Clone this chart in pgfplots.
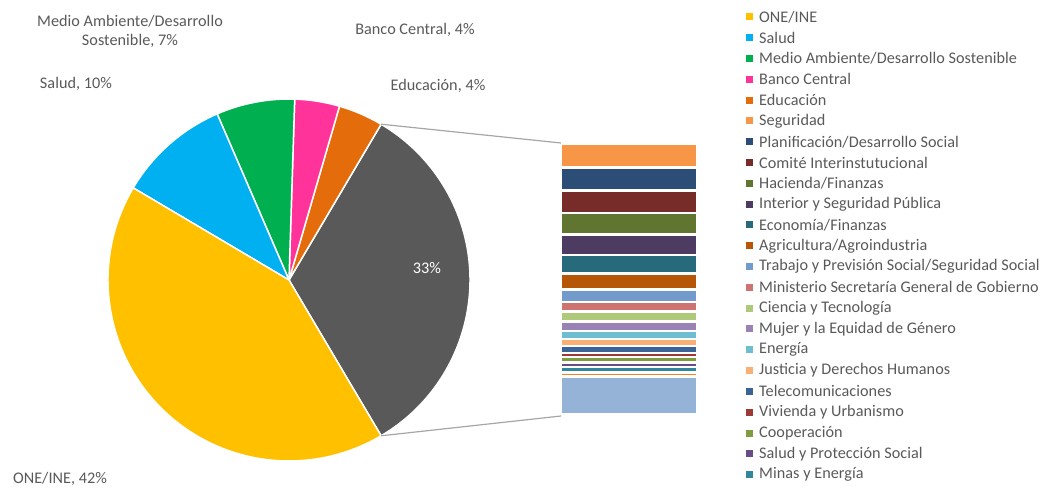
\documentclass[border=0pt]{standalone}
\usepackage{fontspec}
\setmainfont[LetterSpace=0.3]{Carlito}
\usepackage{pgfplots}
\pgfplotsset{compat=1.18}

\definecolor{cONE}{HTML}{FFC000}
\definecolor{cSalud}{HTML}{00B0F0}
\definecolor{cMedio}{HTML}{00B050}
\definecolor{cBanco}{HTML}{FF3399}
\definecolor{cEdu}{HTML}{E46C0A}
\definecolor{cOther}{HTML}{595959}
\definecolor{cSeg}{HTML}{F79646}
\definecolor{cPlan}{HTML}{2C4D75}
\definecolor{cComite}{HTML}{772C2A}
\definecolor{cHac}{HTML}{5F7530}
\definecolor{cInt}{HTML}{4D3B62}
\definecolor{cEco}{HTML}{276A7C}
\definecolor{cAgr}{HTML}{B65708}
\definecolor{cTrab}{HTML}{729ACA}
\definecolor{cMin}{HTML}{CD7371}
\definecolor{cCien}{HTML}{AFC97A}
\definecolor{cMuj}{HTML}{9983B5}
\definecolor{cEne}{HTML}{6FBDD1}
\definecolor{cJus}{HTML}{F9B074}
\definecolor{cTel}{HTML}{3A6398}
\definecolor{cViv}{HTML}{9C3A37}
\definecolor{cCoop}{HTML}{7E9D3E}
\definecolor{cSPS}{HTML}{664E84}
\definecolor{cMinas}{HTML}{31869B}
\definecolor{cExtraA}{HTML}{F48024}
\definecolor{cExtraB}{HTML}{95B3D7}
\definecolor{txt}{HTML}{595959}

\begin{document}
\begin{tikzpicture}[x=1pt,y=1pt,
  lbl/.style={font=\fontsize{16.2}{19}\selectfont, text=txt, inner sep=0pt}]
\path[use as bounding box] (0,0) rectangle (1045,488);

% pie: share of each slice, in %, counterclockwise starting with the "other" slice
\begin{axis}[at={(289pt,208pt)}, anchor=center, scale only axis,
  width=362pt, height=362pt, xmin=-1, xmax=1, ymin=-1, ymax=1,
  hide axis, clip=false]
\addplot[draw=none] coordinates {(0,0)};
\pgfplotsextra{
  \pgfmathsetmacro\start{-33*1.8}
  \foreach \v/\c in {33/cOther,4/cEdu,4/cBanco,7/cMedio,10/cSalud,42/cONE} {
    \pgfmathsetmacro\en{\start+3.6*\v}
    \fill[\c, draw=white, line width=1.5pt] (axis cs:0,0) -- ++(\start:181pt)
      arc[start angle=\start, end angle=\en, radius=181pt] -- cycle;
    \global\let\start\en
  }
}
\coordinate (pu) at (axis cs:{cos(59.4)},{sin(59.4)});
\coordinate (pd) at (axis cs:{cos(59.4)},{-sin(59.4)});
\end{axis}

% bar of the "other" slice, bottom to top
\begin{axis}[name=bar, at={(560.7pt,73.4pt)}, anchor=south west, scale only axis,
  width=136.6pt, height=270.9pt, hide axis, clip=false,
  xmin=-0.5, xmax=0.5, ymin=0, ymax=32.99,
  ybar stacked, bar width=136.6pt,
  every axis plot/.append style={draw=white, line width=2.6pt}]
\addplot[fill=cExtraB] coordinates {(0,4.67)};
\addplot[fill=cExtraA] coordinates {(0,0.49)};
\addplot[fill=cMinas] coordinates {(0,0.63)};
\addplot[fill=cSPS] coordinates {(0,0.55)};
\addplot[fill=cCoop] coordinates {(0,0.66)};
\addplot[fill=cViv] coordinates {(0,0.50)};
\addplot[fill=cTel] coordinates {(0,0.85)};
\addplot[fill=cJus] coordinates {(0,0.86)};
\addplot[fill=cEne] coordinates {(0,0.98)};
\addplot[fill=cMuj] coordinates {(0,1.18)};
\addplot[fill=cCien] coordinates {(0,1.16)};
\addplot[fill=cMin] coordinates {(0,1.18)};
\addplot[fill=cTrab] coordinates {(0,1.53)};
\addplot[fill=cAgr] coordinates {(0,1.97)};
\addplot[fill=cEco] coordinates {(0,2.21)};
\addplot[fill=cInt] coordinates {(0,2.50)};
\addplot[fill=cHac] coordinates {(0,2.64)};
\addplot[fill=cComite] coordinates {(0,2.73)};
\addplot[fill=cPlan] coordinates {(0,2.83)};
\addplot[fill=cSeg] coordinates {(0,2.87)};
\end{axis}

% connector lines
\draw[black!35, line width=1.2pt] (pu) -- (561,345);
\draw[black!35, line width=1.2pt] (pd) -- (561,72);

% data labels
\node[lbl, align=center] at (130,457) {Medio Ambiente/Desarrollo\\Sostenible, 7\%};
\node[lbl] at (415,458) {Banco Central, 4\%};
\node[lbl] at (76,404) {Salud, 10\%};
\node[lbl] at (438,402) {Educación, 4\%};
\node[lbl] at (60,9) {ONE/INE, 42\%};
\node[lbl, text=white] at (427,220) {33\%};

% legend
\foreach \c/\t [count=\i from 0] in {
  cONE/{ONE/INE}, cSalud/{Salud}, cMedio/{Medio Ambiente/Desarrollo Sostenible},
  cBanco/{Banco Central}, cEdu/{Educación}, cSeg/{Seguridad},
  cPlan/{Planificación/Desarrollo Social}, cComite/{Comité Interinstutucional},
  cHac/{Hacienda/Finanzas}, cInt/{Interior y Seguridad Pública},
  cEco/{Economía/Finanzas}, cAgr/{Agricultura/Agroindustria},
  cTrab/{Trabajo y Previsión Social/Seguridad Social},
  cMin/{Ministerio Secretaría General de Gobierno}, cCien/{Ciencia y Tecnología},
  cMuj/{Mujer y la Equidad de Género}, cEne/{Energía},
  cJus/{Justicia y Derechos Humanos}, cTel/{Telecomunicaciones},
  cViv/{Vivienda y Urbanismo}, cCoop/{Cooperación},
  cSPS/{Salud y Protección Social}, cMinas/{Minas y Energía}} {
  \pgfmathsetmacro\yy{471-20.8*\i}
  \fill[\c] (745.5,\yy-3.5) rectangle ++(7,7);
  \node[lbl, anchor=west] at (759,\yy) {\t};
}
\end{tikzpicture}
\end{document}
